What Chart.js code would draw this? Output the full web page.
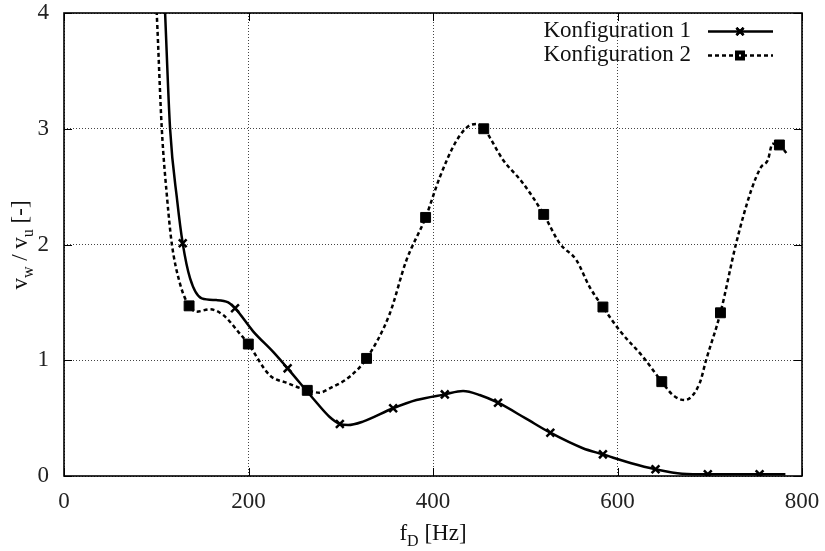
<!DOCTYPE html>
<html>
<head>
<meta charset="utf-8">
<script src="https://cdn.jsdelivr.net/npm/chart.js@4/dist/chart.umd.min.js"></script>
<style>
  html, body { margin: 0; padding: 0; background: #fff; }
  #wrap { width: 825px; height: 551px; position: relative; }
</style>
</head>
<body>
<div id="wrap"><canvas id="c" width="825" height="551"></canvas></div>
<script>
// ---- Data ----
const seriesNames = ["Konfiguration 1", "Konfiguration 2"];

// Konfiguration 1: smooth curve
const k1CurveX = [107, 109.6, 115, 122.7, 128.7, 136.6, 149.3, 165, 178, 185.4, 205, 227, 242.4, 270, 288, 299, 308, 324, 356.8, 382, 412.8, 432.6, 450.6, 470.5, 500, 527.2, 562.5, 584.2, 615, 641.2, 670, 697.9, 754, 782];
const k1CurveY = [4.5, 4.0, 3.0, 2.38, 2.01, 1.71, 1.535, 1.52, 1.50, 1.45, 1.25, 1.07, 0.93, 0.67, 0.51, 0.45, 0.44, 0.47, 0.585, 0.656, 0.705, 0.734, 0.70, 0.633, 0.50, 0.374, 0.24, 0.187, 0.11, 0.058, 0.02, 0.015, 0.015, 0.015];
// Konfiguration 1: marker points
const k1MarkX = [128.7, 185.4, 242.4, 299, 356.8, 412.8, 470.5, 527.2, 584.2, 641.2, 697.9, 754];
const k1MarkY = [2.01, 1.45, 0.93, 0.45, 0.585, 0.705, 0.633, 0.374, 0.187, 0.058, 0.015, 0.015];

// Konfiguration 2: smooth curve
const k2CurveX = [97, 100.5, 106, 112, 116.8, 125.8, 135.6, 144, 158, 172.6, 190.6, 199.8, 223, 241, 263.7, 277, 288, 310, 328, 353, 371, 392, 407.3, 425, 440, 447, 455, 476, 497.5, 520, 537.3, 555.4, 570, 584.2, 602, 627.5, 648, 660, 672.6, 689, 696, 711.6, 728.6, 745, 755.7, 763, 768, 775.5, 783];
const k2CurveY = [4.5, 4.0, 3.0, 2.38, 2.01, 1.66, 1.47, 1.42, 1.44, 1.39, 1.23, 1.14, 0.87, 0.806, 0.74, 0.72, 0.757, 0.86, 1.016, 1.40, 1.86, 2.234, 2.58, 2.89, 3.03, 3.04, 3.0, 2.73, 2.53, 2.26, 2.01, 1.865, 1.63, 1.46, 1.26, 1.03, 0.815, 0.70, 0.656, 0.80, 1.0, 1.41, 2.01, 2.47, 2.67, 2.73, 2.87, 2.86, 2.79];
// Konfiguration 2: marker points
const k2MarkX = [135.6, 199.8, 263.7, 328, 392, 455, 520, 584.2, 648, 711.6, 775.5];
const k2MarkY = [1.47, 1.14, 0.74, 1.016, 2.234, 3.0, 2.26, 1.46, 0.815, 1.41, 2.86];

// Axis ticks
const xTicks = [0, 200, 400, 600, 800];
const yTicks = [0, 1, 2, 3, 4];

// ---- helpers ----
const zip = (xs, ys) => xs.map((x, i) => ({ x: x, y: ys[i] }));
const FONT = "'Liberation Serif', 'DejaVu Serif', serif";

const framePlugin = {
  id: 'frame',
  afterDraw(chart) {
    const { ctx, chartArea: a, scales } = chart;
    ctx.save();
    // inward tick marks (mirrored)
    ctx.strokeStyle = '#000';
    ctx.lineWidth = 1;
    const tl = 8;
    xTicks.forEach(v => {
      const px = Math.round(scales.x.getPixelForValue(v)) + 0.5;
      ctx.beginPath();
      ctx.moveTo(px, a.bottom); ctx.lineTo(px, a.bottom - tl);
      ctx.moveTo(px, a.top); ctx.lineTo(px, a.top + tl);
      ctx.stroke();
    });
    yTicks.forEach(v => {
      const py = Math.round(scales.y.getPixelForValue(v)) + 0.5;
      ctx.beginPath();
      ctx.moveTo(a.left, py); ctx.lineTo(a.left + tl, py);
      ctx.moveTo(a.right, py); ctx.lineTo(a.right - tl, py);
      ctx.stroke();
    });
    // frame
    ctx.lineWidth = 1.6;
    ctx.strokeRect(a.left, a.top, a.right - a.left, a.bottom - a.top);

    // axis titles with subscripts
    ctx.fillStyle = '#111';
    ctx.textBaseline = 'alphabetic';
    const big = '23px ' + FONT, small = '16px ' + FONT;
    function drawParts(parts, cx, by) {
      let w = 0;
      parts.forEach(p => { ctx.font = p.sub ? small : big; w += ctx.measureText(p.t).width; });
      let x = cx - w / 2;
      parts.forEach(p => {
        ctx.font = p.sub ? small : big;
        ctx.fillText(p.t, x, by + (p.sub ? 6 : 0));
        x += ctx.measureText(p.t).width;
      });
    }
    // x title
    drawParts([{ t: 'f' }, { t: 'D', sub: true }, { t: ' [Hz]' }], (a.left + a.right) / 2, 540);
    // y title
    ctx.save();
    ctx.translate(27, 245);
    ctx.rotate(-Math.PI / 2);
    drawParts([{ t: 'v' }, { t: 'w', sub: true }, { t: ' / v' }, { t: 'u', sub: true }, { t: ' [-]' }], 0, 0);
    ctx.restore();

    // legend (text right-aligned, sample to the right)
    ctx.font = big;
    ctx.textAlign = 'right';
    ctx.textBaseline = 'middle';
    const rows = [
      { y: 31, dash: [], style: 'crossRot' },
      { y: 55, dash: [4, 3], style: 'rect' }
    ];
    rows.forEach((r, i) => {
      ctx.fillStyle = '#111';
      ctx.fillText(seriesNames[i], 691, r.y);
      ctx.strokeStyle = '#000';
      ctx.lineWidth = 2.5;
      ctx.setLineDash(r.dash);
      ctx.beginPath();
      ctx.moveTo(708, r.y + 0.5); ctx.lineTo(773, r.y + 0.5);
      ctx.stroke();
      ctx.setLineDash([]);
      if (r.style === 'crossRot') {
        ctx.lineWidth = 2.5;
        Chart.helpers.drawPoint(ctx, { pointStyle: 'crossRot', radius: 5, borderWidth: 2.5 }, 740, r.y + 0.5);
        ctx.stroke();
      } else {
        ctx.fillStyle = '#000';
        ctx.fillRect(735, r.y - 4.5, 10, 10);
        ctx.fillStyle = '#fff';
        ctx.fillRect(739, r.y - 0.5, 2, 2);
      }
    });
    ctx.restore();
  }
};

new Chart(document.getElementById('c'), {
  type: 'scatter',
  data: {
    datasets: [
      {
        label: seriesNames[0],
        data: zip(k1CurveX, k1CurveY),
        showLine: true,
        borderColor: '#000',
        borderWidth: 2.5,
        pointRadius: 0,
        tension: 0.4,
        cubicInterpolationMode: 'monotone'
      },
      {
        label: seriesNames[1],
        data: zip(k2CurveX, k2CurveY),
        showLine: true,
        borderColor: '#000',
        borderWidth: 2.5,
        borderDash: [4, 3],
        pointRadius: 0,
        tension: 0.4,
        cubicInterpolationMode: 'monotone'
      },
      {
        label: seriesNames[0] + ' markers',
        data: zip(k1MarkX, k1MarkY),
        showLine: false,
        pointStyle: 'crossRot',
        pointRadius: 5.5,
        pointBorderWidth: 2.5,
        borderColor: '#000',
        backgroundColor: '#000'
      },
      {
        label: seriesNames[1] + ' markers',
        data: zip(k2MarkX, k2MarkY),
        showLine: false,
        pointStyle: 'rect',
        pointRadius: 7,
        pointBorderWidth: 1,
        borderColor: '#000',
        backgroundColor: '#000'
      },
      {
        label: seriesNames[1] + ' marker centres',
        data: zip(k2MarkX, k2MarkY),
        showLine: false,
        pointStyle: 'rect',
        pointRadius: 1.4,
        pointBorderWidth: 0,
        borderColor: '#fff',
        backgroundColor: '#fff'
      }
    ]
  },
  options: {
    responsive: false,
    animation: false,
    layout: { padding: { top: 13, right: 23, left: 0, bottom: 0 } },
    plugins: { legend: { display: false }, tooltip: { enabled: false } },
    scales: {
      x: {
        type: 'linear',
        min: 0, max: 800,
        afterBuildTicks: s => { s.ticks = xTicks.map(v => ({ value: v })); },
        afterFit: s => { s.height = 75; s.paddingLeft = 0; s.paddingRight = 0; },
        ticks: { font: { family: FONT, size: 23 }, color: '#222', padding: 12, maxRotation: 0 },
        grid: { color: '#444', lineWidth: 1, drawTicks: false },
        border: { display: false, dash: [1, 2] }
      },
      y: {
        type: 'linear',
        min: 0, max: 4,
        afterBuildTicks: s => { s.ticks = yTicks.map(v => ({ value: v })); },
        afterFit: s => { s.width = 64; s.paddingTop = 0; s.paddingBottom = 0; },
        ticks: { font: { family: FONT, size: 23 }, color: '#222', padding: 15 },
        grid: { color: '#444', lineWidth: 1, drawTicks: false },
        border: { display: false, dash: [1, 2] }
      }
    }
  },
  plugins: [framePlugin]
});
</script>
</body>
</html>
